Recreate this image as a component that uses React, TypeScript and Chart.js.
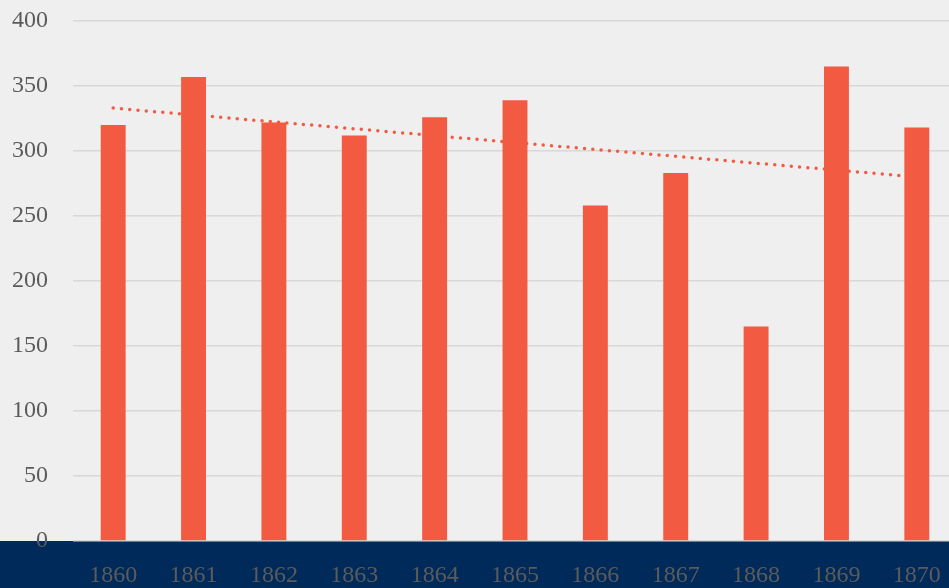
import React, { useEffect, useRef } from "react";
import { Chart, registerables } from "chart.js";

Chart.register(...registerables);

const years = ["1860", "1861", "1862", "1863", "1864", "1865", "1866", "1867", "1868", "1869", "1870"];
const values = [320, 357, 322, 312, 326, 339, 258, 283, 165, 365, 318];
// linear trendline end points (first and last category)
const trend = [333, null, null, null, null, null, null, null, null, null, 280];

const BG = "#efefef";
const NAVY = "#002a5a";
const BAR = "#f25a41";
const TEXT = "#5b5b5b";

const bgPlugin = {
  id: "bgBand",
  beforeDraw(chart: any) {
    const { ctx, chartArea, width, height } = chart;
    ctx.save();
    ctx.fillStyle = BG;
    ctx.fillRect(0, 0, width, height);
    ctx.fillStyle = NAVY;
    ctx.fillRect(0, chartArea.bottom, width, height - chartArea.bottom);
    ctx.restore();
  },
};

export default function App() {
  const ref = useRef<HTMLCanvasElement>(null);
  useEffect(() => {
    if (!ref.current) return;
    const font = { family: "'Liberation Serif', serif", size: 24 };
    const chart = new Chart(ref.current, {
      type: "bar",
      data: {
        labels: years,
        datasets: [
          {
            type: "bar",
            data: values,
            backgroundColor: BAR,
            barPercentage: 0.31,
            categoryPercentage: 1,
            order: 1,
          },
          {
            type: "line",
            data: trend as any,
            spanGaps: true,
            borderColor: BAR,
            borderWidth: 3.5,
            borderDash: [0, 8.3],
            borderCapStyle: "round",
            pointRadius: 0,
            fill: false,
            order: 2,
          } as any,
        ],
      },
      options: {
        responsive: false,
        animation: false,
        layout: { padding: { top: 21, left: 0, right: 0, bottom: 0 } },
        plugins: { legend: { display: false }, tooltip: { enabled: false } },
        scales: {
          x: {
            grid: { display: false, drawTicks: false },
            border: { display: false },
            ticks: { color: TEXT, font, padding: 20, maxRotation: 0 },
            afterFit(scale: any) {
              scale.height = 47;
              scale.paddingLeft = 0;
              scale.paddingRight = 0;
            },
          },
          y: {
            min: 0,
            max: 400,
            grid: { color: "#d8d8d8", lineWidth: 1.6, drawTicks: false },
            border: { display: false },
            ticks: { stepSize: 50, color: TEXT, font, padding: 25 },
            afterFit(scale: any) {
              scale.width = 73;
              scale.paddingTop = 0;
              scale.paddingBottom = 0;
            },
          },
        },
      },
      plugins: [bgPlugin],
    });
    return () => chart.destroy();
  }, []);
  return (
    <div style={{ position: "absolute", left: 0, top: 0, width: 949, height: 588, overflow: "hidden", background: BG }}>
      <canvas ref={ref} width={957} height={588} style={{ display: "block" }} />
    </div>
  );
}
